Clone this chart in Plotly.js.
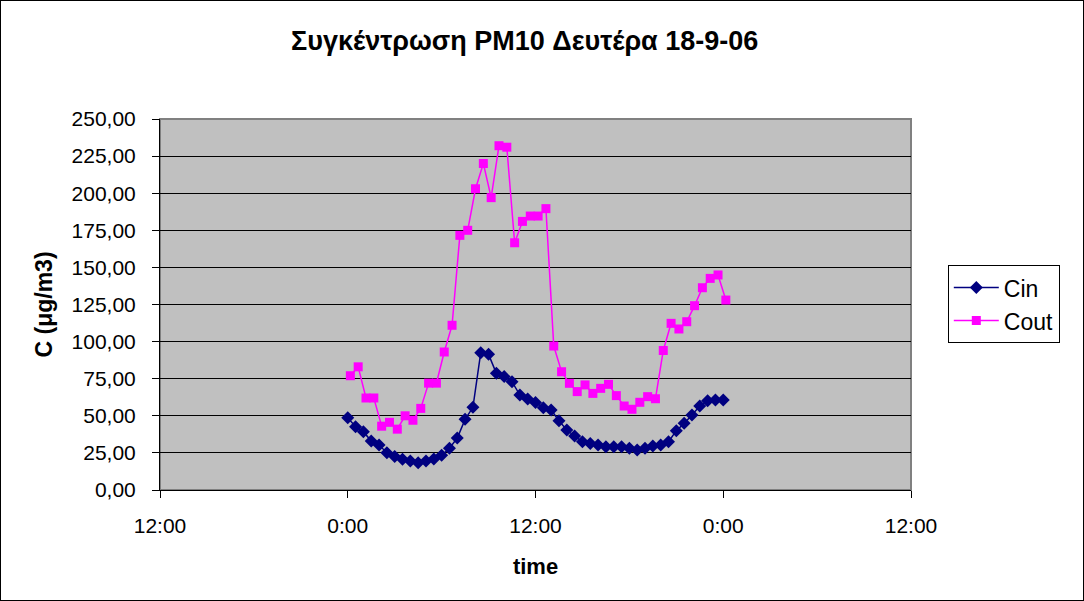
<!DOCTYPE html>
<html>
<head>
<meta charset="utf-8">
<script src="https://cdn.plot.ly/plotly-3.0.1.min.js"></script>
<style>
html,body{margin:0;padding:0;background:#fff;overflow:hidden;}
#wrap{position:relative;width:1084px;height:601px;}
#chart{position:absolute;left:0;top:0;width:1084px;height:601px;}
#frame{position:absolute;left:0;top:0;width:1084px;height:601px;box-sizing:border-box;border:1px solid #000;pointer-events:none;}
</style>
</head>
<body>
<div id="wrap"><div id="chart"></div><div id="frame"></div></div>
<script>
const cinTimes = ["0:00","0:30","1:00","1:30","2:00","2:30","3:00","3:30","4:00","4:30",
  "5:00","5:30","6:00","6:30","7:00","7:30","8:00","8:30","9:00","9:30",
  "10:00","10:30","11:00","11:30","12:00","12:30","13:00","13:30","14:00","14:30",
  "15:00","15:30","16:00","16:30","17:00","17:30","18:00","18:30","19:00","19:30",
  "20:00","20:30","21:00","21:30","22:00","22:30","23:00","23:30","24:00"];
const coutTimes = ["0:10","0:40","1:10","1:40","2:10","2:40","3:10","3:40","4:10","4:40",
  "5:10","5:40","6:10","6:40","7:10","7:40","8:10","8:40","9:10","9:40",
  "10:10","10:40","11:10","11:40","12:10","12:40","13:10","13:40","14:10","14:40",
  "15:10","15:40","16:10","16:40","17:10","17:40","18:10","18:40","19:10","19:40",
  "20:10","20:40","21:10","21:40","22:10","22:40","23:10","23:40","24:10"];
const cinValues = [48.7,42.7,39.3,33,30.3,25.1,22.5,20.7,19.5,18.4,
  19.5,20.9,23.4,28.1,35,47.6,55.7,92.5,91.4,78.6,
  76.4,73,64,61.3,59,55.5,53.9,46.7,40.4,36.4,
  32.5,31.4,30.3,29.2,29.2,29.2,28.1,27,28.1,29.6,
  30.3,32.5,40,44.9,50.5,56.6,60.2,60.6,60.6];
const coutValues = [77,83,62,62,43,45.6,41,50,47,55,
  72,72,93,111,171.6,175,203,220,197,232,
  231,166.6,181,184.6,184.6,189.6,97,79.7,71.9,66.3,
  70.8,65.1,68.5,71.2,63.6,56.6,54.4,59.1,62.9,61.5,
  94,112.3,108.5,113.4,124.2,136.3,142.6,144.9,128];
const xTickVals = [-12, 0, 12, 24, 36];
const xTickText = ["12:00","0:00","12:00","0:00","12:00"];
const seriesNames = ["Cin","Cout"];

function toHours(t){ const p = t.split(":"); return Number(p[0]) + Number(p[1]) / 60; }

const font = "Arial, 'Liberation Sans', sans-serif";
const traces = [
  {x: cinTimes.map(toHours), y: cinValues, name: seriesNames[0], type: "scatter", mode: "lines+markers",
   line: {color: "#000080", width: 1.5},
   marker: {symbol: "diamond", size: 10, color: "#000080"}},
  {x: coutTimes.map(toHours), y: coutValues, name: seriesNames[1], type: "scatter", mode: "lines+markers",
   line: {color: "#FF00FF", width: 1.5},
   marker: {symbol: "square", size: 9, color: "#FF00FF"}}
];
const layout = {
  width: 1084, height: 601,
  margin: {l: 160, r: 173, t: 119, b: 111},
  paper_bgcolor: "#ffffff", plot_bgcolor: "#C0C0C0",
  separators: ",.",
  font: {family: font, size: 21, color: "#000"},
  title: {text: "<b>Συγκέντρωση PM10 Δευτέρα 18-9-06</b>", x: 0.484, xanchor: "center",
          y: 0.933, yanchor: "middle", font: {family: font, size: 27, color: "#000"}},
  xaxis: {range: [-12, 36], tickmode: "array", tickvals: xTickVals, ticktext: xTickText,
          showgrid: false, zeroline: false, showline: true, linecolor: "#000", linewidth: 1,
          ticks: "outside", ticklen: 7, tickcolor: "#000", ticklabelstandoff: 10,
          tickfont: {family: font, size: 21},
          title: {text: "<b>time</b>", font: {family: font, size: 22}, standoff: 22}},
  yaxis: {range: [0, 250], dtick: 25, tick0: 0, tickformat: ".2f",
          showgrid: true, gridcolor: "#000", gridwidth: 1, zeroline: false,
          showline: true, linecolor: "#000", linewidth: 1,
          ticks: "outside", ticklen: 7, tickcolor: "#000", ticklabelstandoff: 12,
          tickfont: {family: font, size: 21},
          title: {text: "<b>C (μg/m3)</b>", font: {family: font, size: 23}, standoff: 12}},
  legend: {x: 1.049, y: 0.606, xanchor: "left", yanchor: "top",
           bgcolor: "#fff", bordercolor: "#000", borderwidth: 1, itemwidth: 45,
           font: {family: font, size: 23}},
  shapes: [{type: "rect", xref: "paper", yref: "paper", x0: 0, x1: 1, y0: 0, y1: 1,
            line: {color: "#808080", width: 2}, layer: "below"}],
  showlegend: true
};
Plotly.newPlot("chart", traces, layout, {displayModeBar: false, staticPlot: true});
</script>
</body>
</html>
